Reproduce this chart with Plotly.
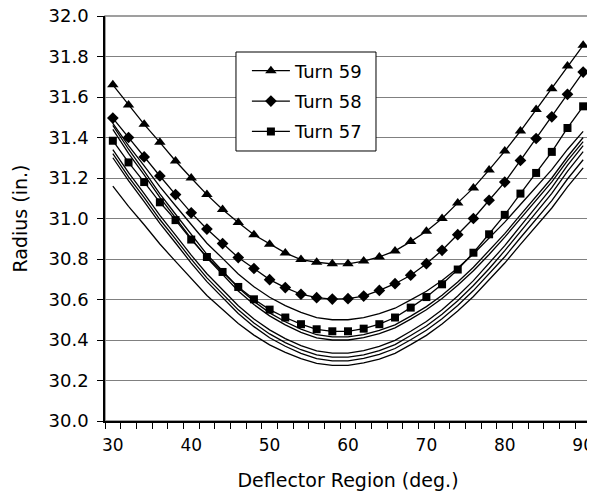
import plotly.graph_objects as go

# ==========================================
# DATA
# ==========================================

deg = list(range(30, 92, 2))

turn_59 = [31.66, 31.56, 31.465, 31.376, 31.284, 31.20, 31.118, 31.045, 30.98, 30.92,
           30.873, 30.83, 30.797, 30.784, 30.776, 30.776, 30.79, 30.81, 30.84, 30.886,
           30.937, 31.00, 31.077, 31.151, 31.24, 31.333, 31.432, 31.538, 31.641, 31.753,
           31.855]

turn_58 = [31.496, 31.40, 31.304, 31.21, 31.118, 31.028, 30.948, 30.876, 30.807, 30.753,
           30.698, 30.659, 30.626, 30.609, 30.602, 30.604, 30.617, 30.645, 30.678, 30.72,
           30.777, 30.843, 30.92, 31.0, 31.09, 31.18, 31.287, 31.395, 31.502, 31.613,
           31.723]

turn_57 = [31.384, 31.277, 31.18, 31.08, 30.992, 30.896, 30.81, 30.736, 30.662, 30.601,
           30.55, 30.511, 30.478, 30.453, 30.443, 30.443, 30.456, 30.478, 30.511, 30.56,
           30.612, 30.675, 30.748, 30.831, 30.922, 31.018, 31.123, 31.225, 31.329, 31.447,
           31.554]

# other turns (no markers, not in legend)
turn_56 = [31.47, 31.36, 31.26, 31.157, 31.063, 30.968, 30.878, 30.803, 30.726, 30.663,
           30.611, 30.57, 30.536, 30.511, 30.50, 30.50, 30.511, 30.53, 30.557, 30.598,
           30.641, 30.694, 30.756, 30.825, 30.901, 30.982, 31.069, 31.155, 31.241, 31.341,
           31.43]
turn_55 = [31.46, 31.342, 31.234, 31.122, 31.021, 30.919, 30.823, 30.741, 30.658, 30.591,
           30.534, 30.49, 30.454, 30.426, 30.415, 30.415, 30.427, 30.447, 30.475, 30.518,
           30.565, 30.621, 30.686, 30.759, 30.84, 30.925, 31.018, 31.108, 31.20, 31.305,
           31.40]
turn_54 = [31.44, 31.322, 31.215, 31.104, 31.003, 30.901, 30.806, 30.724, 30.642, 30.575,
           30.519, 30.475, 30.438, 30.411, 30.40, 30.40, 30.412, 30.431, 30.46, 30.503,
           30.549, 30.605, 30.67, 30.742, 30.822, 30.908, 31.00, 31.09, 31.181, 31.286,
           31.38]
turn_53 = [31.34, 31.226, 31.123, 31.015, 30.918, 30.819, 30.727, 30.649, 30.569, 30.504,
           30.45, 30.407, 30.372, 30.346, 30.335, 30.335, 30.347, 30.368, 30.398, 30.443,
           30.491, 30.549, 30.617, 30.693, 30.777, 30.866, 30.962, 31.057, 31.152, 31.262,
           31.36]
turn_52 = [31.32, 31.206, 31.103, 30.995, 30.898, 30.799, 30.707, 30.629, 30.549, 30.484,
           30.43, 30.387, 30.352, 30.326, 30.315, 30.315, 30.327, 30.347, 30.377, 30.422,
           30.469, 30.527, 30.594, 30.669, 30.752, 30.841, 30.936, 31.03, 31.124, 31.233,
           31.33]
turn_51 = [31.30, 31.187, 31.083, 30.976, 30.879, 30.78, 30.688, 30.61, 30.531, 30.466,
           30.411, 30.369, 30.334, 30.308, 30.297, 30.297, 30.309, 30.329, 30.358, 30.401,
           30.448, 30.505, 30.57, 30.644, 30.725, 30.811, 30.905, 30.996, 31.088, 31.195,
           31.29]
turn_50 = [31.16, 31.06, 30.969, 30.874, 30.788, 30.702, 30.62, 30.551, 30.481, 30.424,
           30.376, 30.339, 30.308, 30.285, 30.275, 30.275, 30.287, 30.306, 30.334, 30.377,
           30.423, 30.479, 30.543, 30.615, 30.695, 30.78, 30.872, 30.961, 31.052, 31.156,
           31.25]

x_labels = [30, 40, 50, 60, 70, 80, 90]
y_ticks = [30.0, 30.2, 30.4, 30.6, 30.8, 31.0, 31.2, 31.4, 31.6, 31.8, 32.0]

# ==========================================
# FIGURE
# ==========================================

fig = go.Figure()

for ys in [turn_56, turn_55, turn_54, turn_53, turn_52, turn_51, turn_50]:
    fig.add_trace(
        go.Scatter(
            x=deg, y=ys,
            mode="lines",
            line=dict(color="black", width=1.3),
            showlegend=False,
            hoverinfo="skip"
        )
    )

marked = [
    ("Turn 59", turn_59, "triangle-up", 10),
    ("Turn 58", turn_58, "diamond", 9),
    ("Turn 57", turn_57, "square", 8),
]

for name, ys, sym, sz in marked:
    fig.add_trace(
        go.Scatter(
            x=deg, y=ys,
            mode="lines+markers",
            name=name,
            legendgroup=name,
            line=dict(color="black", width=1.3),
            marker=dict(symbol=sym, size=sz, color="black"),
        )
    )

# grey frame round the plot area
fig.add_shape(
    type="rect", xref="x domain", yref="y domain",
    x0=0, x1=1, y0=0, y1=1,
    line=dict(color="#808080", width=1.5),
    layer="below"
)

# legend box (drawn by hand so the padding matches)
fig.add_shape(
    type="rect", xref="x domain", yref="y domain",
    x0=0.2695, x1=0.5576, y0=0.6667, y1=0.9111,
    line=dict(color="black", width=1),
    fillcolor="white",
    layer="above"
)

# page body has an 8px margin, so the figure is 8px smaller
fig.update_layout(
    width=587, height=483,
    margin=dict(l=97, r=4, t=8, b=70),
    paper_bgcolor="white",
    plot_bgcolor="white",
    font=dict(family="DejaVu Sans", size=18, color="black"),
    showlegend=True,
    legend=dict(
        x=0.292, y=0.91, xanchor="left", yanchor="top",
        borderwidth=0,
        bgcolor="rgba(0,0,0,0)",
        tracegroupgap=4,
        itemwidth=38,
        font=dict(size=18)
    ),
    xaxis=dict(
        range=[29, 91],
        tickvals=x_labels,
        ticks="",
        tickfont=dict(size=17),
        showgrid=False,
        showline=True, linecolor="black", linewidth=1.5,
        minor=dict(ticks="outside", tickmode="array",
                   tickvals=list(range(29, 92, 2)),
                   ticklen=6, tickcolor="black", showgrid=False),
        ticklabelstandoff=8,
        ticklabeloverflow="allow",
        automargin=False,
        title=dict(text="Deflector Region (deg.)", font=dict(size=19), standoff=22),
    ),
    yaxis=dict(
        range=[30, 32],
        tickvals=y_ticks,
        tickformat=".1f",
        ticks="outside", ticklen=6, tickcolor="black",
        ticklabelstandoff=5,
        ticklabeloverflow="allow",
        automargin=False,
        showline=True, linecolor="black", linewidth=1.5,
        showgrid=True, gridcolor="#808080", gridwidth=1,
        zeroline=False,
        title=dict(text="Radius (in.)", font=dict(size=19), standoff=16),
    ),
)

fig.write_html("out.html")
